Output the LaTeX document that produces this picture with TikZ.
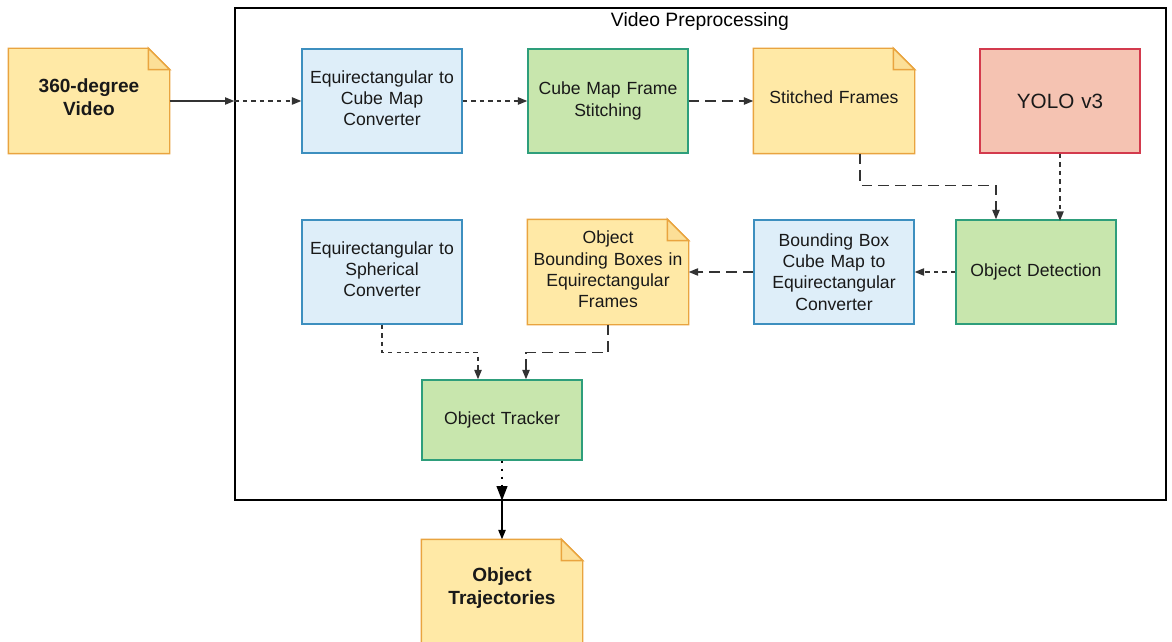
\documentclass[tikz,border=0pt]{standalone}
\usepackage{fontspec}
\setmainfont{Liberation Sans}
\usetikzlibrary{arrows.meta,calc}
\definecolor{noteFill}{HTML}{FFE9A6}
\definecolor{noteLine}{HTML}{E9A43F}
\definecolor{blueFill}{HTML}{DEEEF9}
\definecolor{blueLine}{HTML}{3D8FBF}
\definecolor{greenFill}{HTML}{C8E6AD}
\definecolor{greenLine}{HTML}{2E9E7B}
\definecolor{redFill}{HTML}{F5C3B2}
\definecolor{redLine}{HTML}{D33A4D}
\definecolor{lineCol}{HTML}{333333}
\tikzset{
  box/.style={rectangle, minimum width=120pt, minimum height=78pt, inner sep=0pt,
    text width=116pt, align=center, font=\fontsize{13.2}{15.9}\selectfont, text=black!90, line width=1.1pt},
  bluebox/.style={box, draw=blueLine, fill=blueFill},
  greenbox/.style={box, draw=greenLine, fill=greenFill},
  redbox/.style={box, draw=redLine, fill=redFill, font=\fontsize{15.5}{18}\selectfont},
  notebox/.style={box},
  bold note/.style={font=\fontsize{14.3}{17.25}\selectfont\bfseries},
  noteshape/.style={draw=noteLine, fill=noteFill, line width=1.1pt, line join=miter},
  foldshape/.style={draw=noteLine, fill=noteFill!85!noteLine, line width=1.1pt},
  conn/.style={draw=lineCol, line width=0.9pt, -{Triangle[length=7pt,width=5.5pt]}},
  shortdash/.style={conn, dash pattern=on 3.2pt off 3.2pt},
  longdash/.style={conn, dash pattern=on 8pt off 4.5pt},
}
\newcommand{\drawnote}[1]{%
  \path[noteshape] (#1.north west) -- ($(#1.north east)+(-16pt,0)$) -- ($(#1.north east)+(0,-16pt)$) -- (#1.south east) -- (#1.south west) -- cycle;
  \path[foldshape] ($(#1.north east)+(-16pt,0)$) -- ($(#1.north east)+(-16pt,-16pt)$) -- ($(#1.north east)+(0,-16pt)$) -- cycle;
}
\begin{document}
\begin{tikzpicture}[x=0.75pt,y=-0.75pt]
\useasboundingbox (0,0) rectangle (1172,642);
\fill[white] (0,0) rectangle (1172,642);

% container
\node[draw=black, line width=1pt, minimum width=698.25pt, minimum height=369pt, inner sep=0pt] (container) at (700.5,254) {};
\node[font=\fontsize{14.5}{16}\selectfont] (title) at (700,22) {Video Preprocessing};

% notes (text nodes, drawn shapes behind)
\node[notebox] (video) at (89,101) {};
\node[notebox] (sframes) at (834,101) {};
\node[notebox] (obb) at (608,272) {};
\node[notebox] (traj) at (502,592) {};
\drawnote{video}
\drawnote{sframes}
\drawnote{obb}
\drawnote{traj}
\node[notebox, bold note, yshift=2.5pt] at (video) {360-degree\\Video};
\node[notebox, yshift=3pt] at (sframes) {Stitched Frames};
\node[notebox, yshift=2pt] at (obb) {Object\\Bounding Boxes in\\Equirectangular\\Frames};
\node[notebox, bold note, yshift=3pt] at (traj) {Object\\Trajectories};

% boxes
\node[bluebox] (e2c) at (382,101) {};
\node[bluebox] (e2s) at (382,272) {};
\node[box, yshift=2pt] at (e2c) {Equirectangular to\\Cube Map\\Converter};
\node[box, yshift=2pt] at (e2s) {Equirectangular to\\Spherical\\Converter};
\node[greenbox] (stitch) at (608,101) {Cube Map Frame\\Stitching};
\node[redbox] (yolo) at (1060,101) {YOLO v3};
\node[greenbox] (detect) at (1036,272) {Object Detection};
\node[bluebox] (bb) at (834,272) {Bounding Box\\Cube Map to\\Equirectangular\\Converter};
\node[greenbox, minimum height=60pt] (tracker) at (502,420) {Object Tracker\\[6pt]};

% connectors
\draw[conn] (video.east) -- (video.east -| container.west);
\draw[shortdash] (video.east -| container.west) -- (e2c.west);
\draw[shortdash] (e2c.east) -- (stitch.west);
\draw[longdash] (stitch.east) -- (sframes.west);
\draw[longdash] ($(sframes.south)+(26,0)$) |- ($(detect.north)+(-40,-34)$) -- ($(detect.north)+(-40,0)$);
\draw[shortdash] (yolo.south) -- ($(yolo.south)+(0,67)$);
\draw[shortdash] (detect.west) -- (bb.east);
\draw[longdash] (bb.west) -- (obb.east);
\draw[longdash] (obb.south) -- ++(0,28) -| ($(tracker.north)+(24,0)$);
\draw[shortdash] (e2s.south) -- ++(0,28) -| ($(tracker.north)+(-24,0)$);
\draw[draw=black, line width=1.6pt, dash pattern=on 2pt off 4pt, -{Triangle[length=11pt,width=8pt]}] (tracker.south) -- (tracker.south |- container.south);
\draw[conn, draw=black] (tracker.south |- container.south) -- (traj.north);
\end{tikzpicture}
\end{document}
